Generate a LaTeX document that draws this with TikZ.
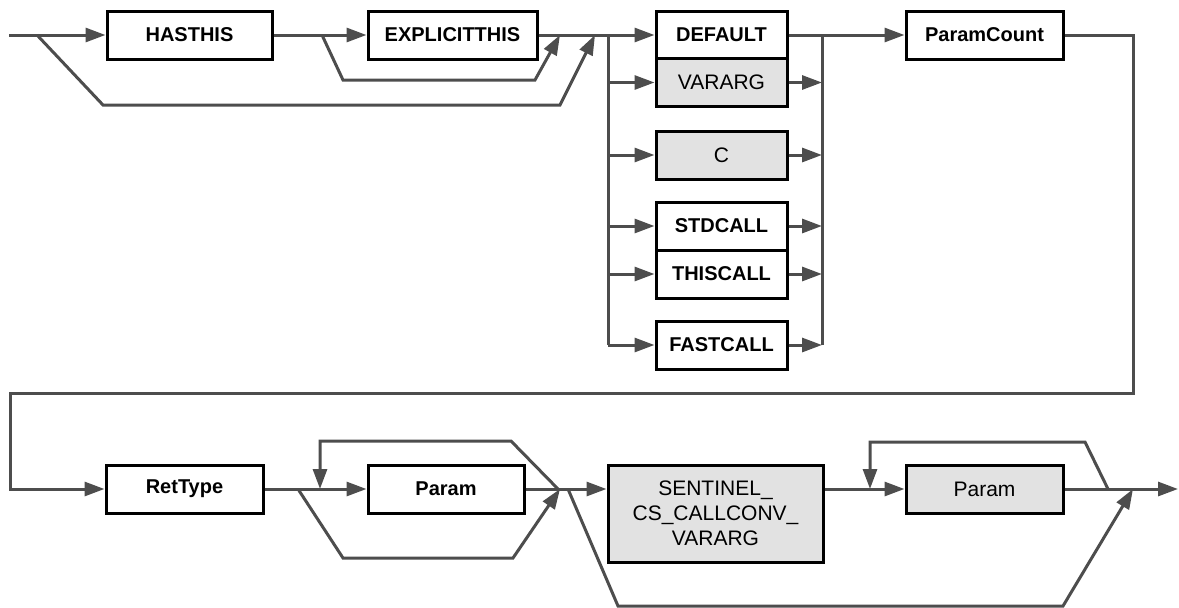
\documentclass[tikz,border=0pt]{standalone}
\usepackage{fontspec}
\setmainfont{Liberation Sans}
\usetikzlibrary{arrows.meta}
\definecolor{ln}{HTML}{4D4D4D}
\definecolor{gf}{HTML}{E2E2E2}
\begin{document}
\begin{tikzpicture}[x=1pt,y=-1pt,
  conn/.style={draw=ln,line width=3pt},
  arr/.style={conn,-{Triangle[length=20pt,width=14pt]}},
  boxw/.style={draw=black,line width=3pt,fill=white,inner sep=0pt,minimum height=48pt,font=\bfseries\fontsize{20}{24}\selectfont},
  boxg/.style={boxw,fill=gf,font=\fontsize{21}{25}\selectfont}]
\useasboundingbox (0,0) rectangle (1179,608);
% coordinates
\coordinate (start) at (9,35);
\coordinate (b1) at (37,35);
\coordinate (b1d) at (103,105);
\coordinate (b1e) at (560,105);
\coordinate (j1) at (595,35);
\coordinate (b2) at (322,35);
\coordinate (b2d) at (343,80);
\coordinate (b2e) at (535,80);
\coordinate (j2) at (560,35);
\coordinate (cl) at (608,35);
\coordinate (clb) at (608,345);
\coordinate (cr) at (822,35);
\coordinate (crb) at (822,345);
\coordinate (t1) at (1133,35);
\coordinate (t2) at (1133,393);
\coordinate (t3) at (10,393);
\coordinate (t4) at (10,489);
\coordinate (r1) at (298,489);
\coordinate (r1d) at (343,558);
\coordinate (r1e) at (513,558);
\coordinate (j3) at (560,489);
\coordinate (lp1) at (558,489);
\coordinate (l1r) at (511,441);
\coordinate (l1t) at (320,441);
\coordinate (l1) at (320,489);
\coordinate (s1) at (568,489);
\coordinate (s1d) at (618,606);
\coordinate (s1e) at (1063,606);
\coordinate (j5) at (1133,489);
\coordinate (l2s) at (1108,489);
\coordinate (l2r) at (1085,442);
\coordinate (l2t) at (870,442);
\coordinate (l2) at (870,489);
\coordinate (end) at (1178,489);
% nodes
\node[boxw,minimum width=165pt] (has) at (189.5,35) {HASTHIS};
\node[boxw,minimum width=169pt] (expl) at (452.5,35) {EXPLICITTHIS};
\node[boxw,minimum width=131pt,minimum height=47pt] (def) at (721.5,35) {DEFAULT};
\node[boxg,minimum width=131pt] (var) at (721.5,82.5) {VARARG};
\node[boxg,minimum width=131pt] (c) at (721.5,155) {C};
\node[boxw,minimum width=131pt] (std) at (721.5,226) {STDCALL};
\node[boxw,minimum width=131pt] (thc) at (721.5,274) {THISCALL};
\node[boxw,minimum width=131pt] (fast) at (721.5,345) {FASTCALL};
\node[boxw,minimum width=157pt] (pc) at (984.5,35) {ParamCount};
\node[boxw,minimum width=157pt] (ret) at (184.5,489) {RetType};
\node[boxw,minimum width=156pt] (p1) at (446,489) {Param};
\node[boxg,minimum width=215pt,minimum height=97pt,align=center] (sent) at (715.5,513.5) {SENTINEL\_\\CS\_CALLCONV\_\\VARARG};
\node[boxg,minimum width=157pt] (p2) at (984.5,489) {Param};
% top row connectors
\draw[arr] (start) -- (has.west);
\draw[arr] (has.east) -- (expl.west);
\draw[conn] (expl.east) -- (cl);
\draw[arr] (b1) -- (b1d) -- (b1e) -- (j1);
\draw[arr] (b2) -- (b2d) -- (b2e) -- (j2);
\draw[conn] (cl) -- (clb);
\draw[arr] (cl) -- (def.west);
\draw[arr] (cl |- var.west) -- (var.west);
\draw[arr] (cl |- c.west) -- (c.west);
\draw[arr] (cl |- std.west) -- (std.west);
\draw[arr] (cl |- thc.west) -- (thc.west);
\draw[arr] (clb) -- (fast.west);
\draw[arr] (def.east) -- (pc.west);
\draw[conn] (cr) -- (crb);
\draw[arr] (var.east) -- (cr |- var.east);
\draw[arr] (c.east) -- (cr |- c.east);
\draw[arr] (std.east) -- (cr |- std.east);
\draw[arr] (thc.east) -- (cr |- thc.east);
\draw[arr] (fast.east) -- (crb);
\draw[arr] (pc.east) -- (t1) -- (t2) -- (t3) -- (t4) -- (ret.west);
% bottom row connectors
\draw[arr] (ret.east) -- (p1.west);
\draw[arr] (r1) -- (r1d) -- (r1e) -- (j3);
\draw[arr] (lp1) -- (l1r) -- (l1t) -- (l1);
\draw[arr] (p1.east) -- (sent.west |- p1.east);
\draw[arr] (s1) -- (s1d) -- (s1e) -- (j5);
\draw[arr] (sent.east |- p2.west) -- (p2.west);
\draw[arr] (l2s) -- (l2r) -- (l2t) -- (l2);
\draw[arr] (p2.east) -- (end);
\end{tikzpicture}
\end{document}
